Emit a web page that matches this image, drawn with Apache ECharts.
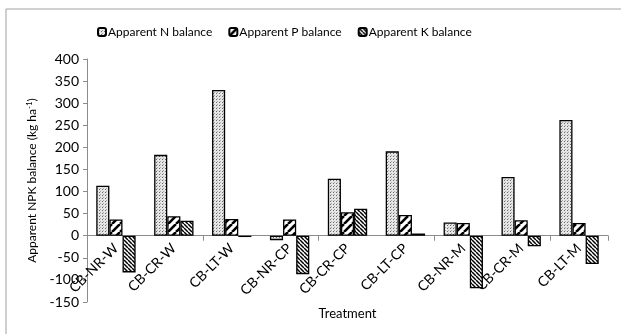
<!DOCTYPE html>
<html><head><meta charset="utf-8">
<script src="https://cdn.jsdelivr.net/npm/echarts@6/dist/echarts.min.js"></script>
<style>html,body{margin:0;padding:0;background:#fff}#c{width:621px;height:334px}</style>
</head><body><div id="c"></div>
<script>
const categories = ['CB-NR-W','CB-CR-W','CB-LT-W','CB-NR-CP','CB-CR-CP','CB-LT-CP','CB-NR-M','CB-CR-M','CB-LT-M'];
const nBalance = [113, 183, 330, -10, 129, 191, 30, 133, 262];
const pBalance = [37, 44, 38, 37, 53, 47, 29, 35, 29];
const kBalance = [-83, 34, -3, -87, 61, 5, -119, -24, -64];
const seriesNames = ['Apparent N balance','Apparent P balance','Apparent K balance'];
const yTicks = {min: -150, max: 400, interval: 50};

function makePattern(kind){
  const c = document.createElement('canvas');
  const ctx = c.getContext('2d');
  if(kind==='N'){
    c.width=3;c.height=3;
    ctx.fillStyle='#e6e6e6';ctx.fillRect(0,0,3,3);
    ctx.fillStyle='#6a6a6a';ctx.fillRect(0,0,1,1);
    ctx.fillStyle='#a8a8a8';ctx.fillRect(1,2,1,1);
  } else if(kind==='P'){
    c.width=8;c.height=8;
    ctx.fillStyle='#fff';ctx.fillRect(0,0,8,8);
    ctx.strokeStyle='#000';ctx.lineWidth=2.6;
    ctx.beginPath();
    for(let o=-8;o<=16;o+=8){ctx.moveTo(o,8);ctx.lineTo(o+8,0);}
    ctx.stroke();
  } else {
    c.width=4;c.height=4;
    ctx.fillStyle='#fff';ctx.fillRect(0,0,4,4);
    ctx.strokeStyle='#000';ctx.lineWidth=1.5;
    ctx.beginPath();
    for(let o=-4;o<=8;o+=4){ctx.moveTo(o,0);ctx.lineTo(o+4,4);}
    ctx.stroke();
  }
  return {image:c, repeat:'repeat'};
}

const font = 'Lato';
const chart = echarts.init(document.getElementById('c'), null, {renderer:'canvas'});
const mk = (name, data, kind) => ({
  name, type:'bar', data, barGap:'0%', barCategoryGap:'32%', xAxisIndex:0,
  itemStyle:{color:makePattern(kind), borderColor:'#000', borderWidth:1.3},
  emphasis:{disabled:true}
});
chart.setOption({
  animation:false,
  textStyle:{fontFamily:font},
  graphic:[{type:'rect', shape:{x:6,y:9,width:700,height:400}, style:{fill:'none', stroke:'#a0a0a0', lineWidth:1}, silent:true}],
  legend:{
    top:21, left:92, itemWidth:8, itemHeight:8, itemGap:16,
    textStyle:{fontSize:12, color:'#000', fontFamily:font, padding:[0,0,0,-3]},
    data:seriesNames
  },
  grid:{left:87, right:13, top:59, bottom:32, containLabel:false, outerBoundsMode:'none'},
  xAxis:[{
    type:'category', data:categories,
    name:'Treatment', nameLocation:'middle', nameGap:5,
    nameTextStyle:{fontSize:13, color:'#000', fontFamily:font},
    axisLine:{onZero:true, lineStyle:{color:'#8c8c8c', width:1}},
    axisTick:{show:true, length:5, lineStyle:{color:'#8c8c8c'}},
    axisLabel:{show:false},
    splitLine:{show:false}
  },{
    type:'category', data:categories, position:'bottom', offset:-66,
    axisLine:{show:false, onZero:false}, axisTick:{show:false},
    axisLabel:{rotate:45, fontSize:14, color:'#000', margin:10, fontFamily:font, interval:0},
    splitLine:{show:false}
  }],
  yAxis:{
    type:'value', min:yTicks.min, max:yTicks.max, interval:yTicks.interval,
    name:'{a|Apparent NPK balance (kg ha}{s|-1}{a|)}', nameLocation:'middle', nameGap:44,
    nameTextStyle:{rich:{a:{fontSize:12,color:'#000',fontFamily:font}, s:{fontSize:8,color:'#000',fontFamily:font, verticalAlign:'top', padding:[0,0,6,0]}}},
    axisLine:{show:true, lineStyle:{color:'#8c8c8c', width:1}},
    axisTick:{show:true, length:4, lineStyle:{color:'#8c8c8c'}},
    axisLabel:{fontSize:14, color:'#000', margin:8, fontFamily:font},
    splitLine:{show:false}
  },
  series:[mk(seriesNames[0], nBalance, 'N'), mk(seriesNames[1], pBalance, 'P'), mk(seriesNames[2], kBalance, 'K')]
});
</script></body></html>
